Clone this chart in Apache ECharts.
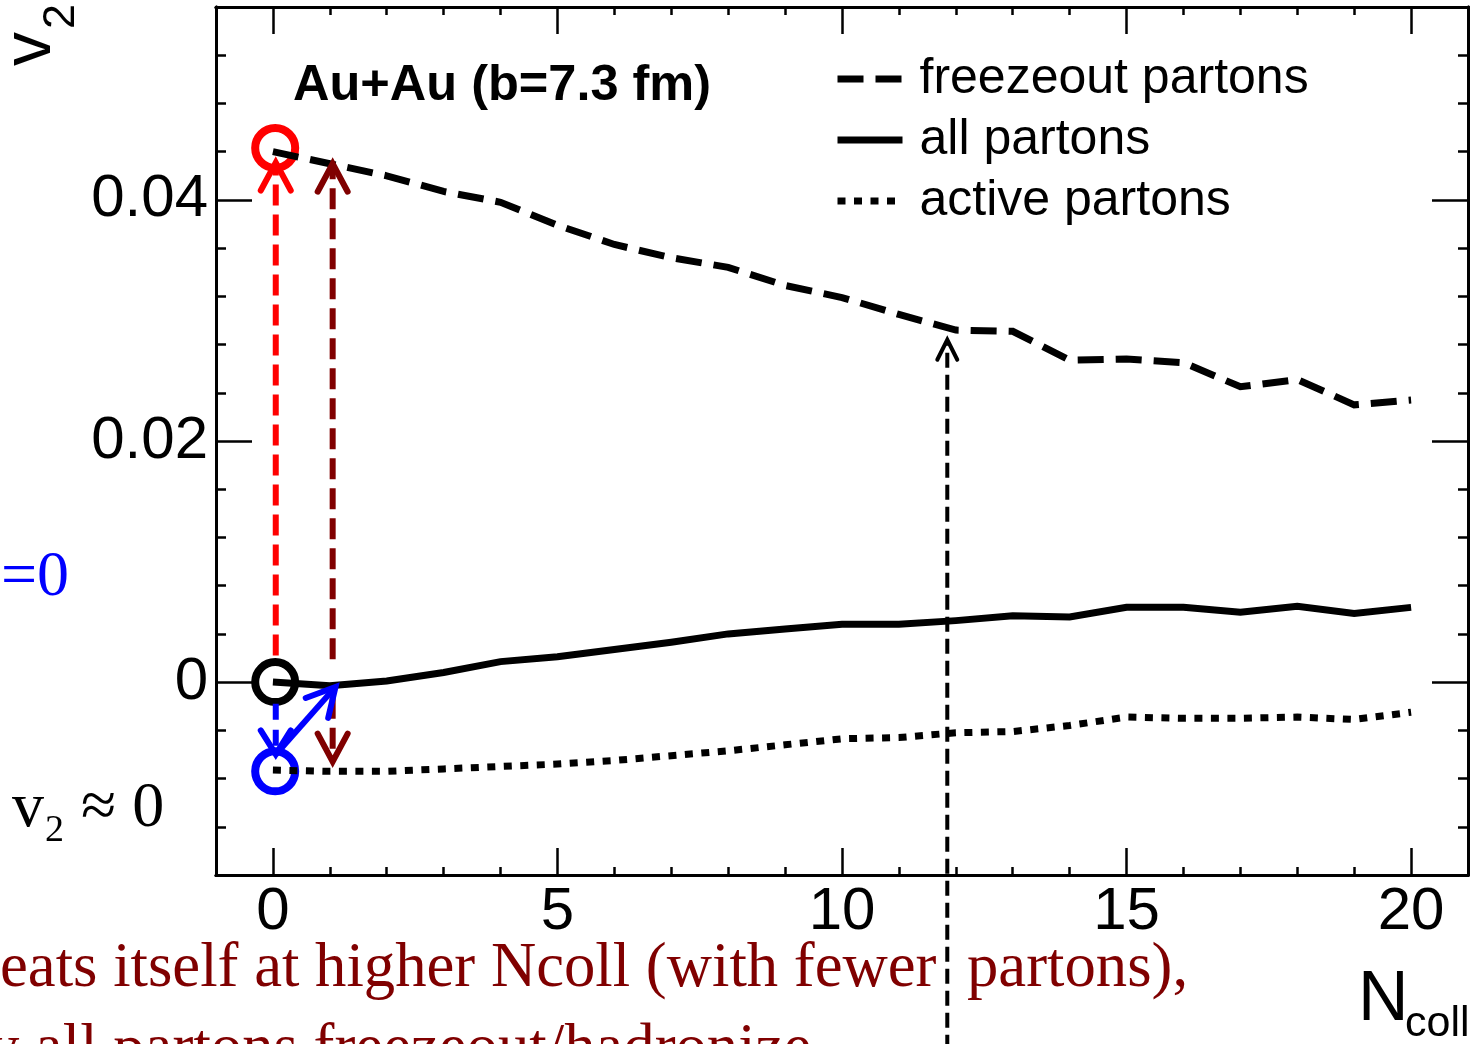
<!DOCTYPE html>
<html>
<head>
<meta charset="utf-8">
<script src="https://cdn.jsdelivr.net/npm/echarts@6/dist/echarts.min.js"></script>
<style>
  html, body { margin: 0; padding: 0; background: #fff; }
  #chart { width: 1475px; height: 1044px; }
</style>
</head>
<body>
<div id="chart"></div>
<script>
// Elliptic flow v2 versus number of collisions, Au+Au at b = 7.3 fm
const nColl = [0, 1, 2, 3, 4, 5, 6, 7, 8, 9, 10, 11, 12, 13, 14, 15, 16, 17, 18, 19, 20];
const v2Freezeout = [0.0440, 0.0430, 0.0420, 0.0407, 0.0398, 0.0379, 0.0363, 0.0352, 0.0344, 0.0329, 0.0319,
                     0.0305, 0.0292, 0.0291, 0.0267, 0.0268, 0.0265, 0.0245, 0.0251, 0.0230, 0.0234];
const v2All = [0.0000, -0.0003, 0.0001, 0.0008, 0.0017, 0.0021, 0.0027, 0.0033, 0.0040, 0.0044, 0.0048,
               0.0048, 0.0051, 0.0055, 0.0054, 0.0062, 0.0062, 0.0058, 0.0063, 0.0057, 0.0062];
const v2Active = [-0.0073, -0.0074, -0.0074, -0.0072, -0.0070, -0.0068, -0.0065, -0.0061, -0.0057, -0.0052, -0.0047,
                  -0.0046, -0.0042, -0.0041, -0.0036, -0.0029, -0.0030, -0.0030, -0.0029, -0.0031, -0.0025];

// axis ticks
const xMajorTicks = [0, 5, 10, 15, 20];
const xMinorTicks = [1, 2, 3, 4, 6, 7, 8, 9, 11, 12, 13, 14, 16, 17, 18, 19];
const yMajorTicks = [0, 0.02, 0.04];
const yMinorTicks = [-0.012, -0.008, -0.004, 0.004, 0.008, 0.012, 0.016, 0.024, 0.028, 0.032, 0.036, 0.044, 0.048, 0.052];

// open circles at Ncoll = 0: freezeout, all, active
const startMarkers = [[0.04, 0.0443], [0.04, 0.0], [0.04, -0.0074]];
const startMarkerColors = ['#ff0000', '#000000', '#0000ff'];

// arrows in data units: [x from, v2 from, x to, v2 to]
const arrowToFreezeout = [[0.05, 0.0022, 0.05, 0.0431]];
const arrowRecoverUp = [[1.05, 0.0019, 1.05, 0.0430]];
const arrowRecoverDown = [[1.05, -0.0013, 1.05, -0.0066]];
const arrowToActive = [[0.05, -0.0018, 0.05, -0.0060]];
const arrowBackToAll = [[0.05, -0.0060, 1.1, -0.0004]];
const arrowRepeat = [[11.85, -0.0305, 11.85, 0.0284]];

const SANS = '"Liberation Sans", Arial, Helvetica, sans-serif';
const SERIF = '"Liberation Serif", "Times New Roman", serif';
const X_MIN = -1, X_MAX = 21, Y_MIN = -0.016, Y_MAX = 0.056;

const chart = echarts.init(document.getElementById('chart'), null, { renderer: 'canvas' });

function pairs(ys) { return nColl.map((n, i) => [n, ys[i]]); }

function xAxisDef(grid, pos, ticks, len, labels) {
  return {
    type: 'value', gridIndex: grid, position: pos, min: X_MIN, max: X_MAX,
    axisLine: { show: true, onZero: false, lineStyle: { color: '#000', width: 3 } },
    axisTick: { show: true, inside: true, length: len, customValues: ticks, lineStyle: { color: '#000', width: 2.5 } },
    axisLabel: labels ? { show: true, customValues: ticks, margin: 7, fontSize: 60, fontFamily: SANS, color: '#000' } : { show: false },
    splitLine: { show: false }
  };
}
function yAxisDef(grid, pos, ticks, len, labels) {
  return {
    type: 'value', gridIndex: grid, position: pos, min: Y_MIN, max: Y_MAX,
    axisLine: { show: true, onZero: false, lineStyle: { color: '#000', width: 3 } },
    axisTick: { show: true, inside: true, length: len, customValues: ticks, lineStyle: { color: '#000', width: 2.5 } },
    axisLabel: labels ? {
      show: true, customValues: ticks, margin: 8, fontSize: 60, fontFamily: SANS, color: '#000',
      formatter: v => (Math.abs(v) < 1e-12 ? '0' : (+v).toFixed(2))
    } : { show: false },
    splitLine: { show: false }
  };
}

function arrowSeries(name, segs, o) {
  return {
    type: 'custom', name: name, xAxisIndex: 0, yAxisIndex: 0, clip: false, silent: true, z: o.z || 4,
    encode: { x: [0, 2], y: [1, 3] },
    data: segs,
    renderItem: function (params, api) {
      const a = api.coord([api.value(0), api.value(1)]);
      const b = api.coord([api.value(2), api.value(3)]);
      const dx = b[0] - a[0], dy = b[1] - a[1];
      const len = Math.hypot(dx, dy), ux = dx / len, uy = dy / len;
      const nx = -uy, ny = ux;
      const bx = b[0] - ux * o.headLen, by = b[1] - uy * o.headLen;
      const tipX = b[0] - ux * o.width * 0.6, tipY = b[1] - uy * o.width * 0.6;
      return {
        type: 'group',
        children: [
          { type: 'line', shape: { x1: a[0], y1: a[1], x2: tipX, y2: tipY },
            style: { stroke: o.color, lineWidth: o.width, lineDash: o.dash || null, lineCap: 'butt' } },
          { type: 'polyline',
            shape: { points: [[bx + nx * o.headHalf, by + ny * o.headHalf], [b[0], b[1]], [bx - nx * o.headHalf, by - ny * o.headHalf]] },
            style: { stroke: o.color, lineWidth: o.width, fill: null, lineCap: 'round', lineJoin: 'miter' } }
        ]
      };
    }
  };
}

// open ring drawn through the axes, so its stroke width is exact
function ringSeries(points, colors) {
  return {
    type: 'custom', name: 'start', xAxisIndex: 0, yAxisIndex: 0, clip: false, silent: true, z: 2,
    encode: { x: 0, y: 1 },
    data: points,
    renderItem: function (params, api) {
      const c = api.coord([api.value(0), api.value(1)]);
      return { type: 'circle', shape: { cx: c[0], cy: c[1], r: 20 },
               style: { fill: null, stroke: colors[params.dataIndex], lineWidth: 8 } };
    }
  };
}

function txt(x, y, text, font, color, extra) {
  return Object.assign({
    type: 'text', x: x, y: y, silent: true, z: 10,
    style: { text: text, font: font, fill: color, textAlign: 'left', align: 'left', textVerticalAlign: 'middle', verticalAlign: 'middle' }
  }, extra || {});
}

const DARKRED = '#800000';

const option = {
  animation: false,
  backgroundColor: '#ffffff',
  grid: [
    { left: 216, right: 7, top: 7, bottom: 169, show: false },
    { left: 216, right: 7, top: 7, bottom: 169, show: false }
  ],
  xAxis: [
    xAxisDef(0, 'bottom', xMajorTicks, 27, true),
    xAxisDef(0, 'top', xMajorTicks, 27, false),
    xAxisDef(1, 'bottom', xMinorTicks, 8, false),
    xAxisDef(1, 'top', xMinorTicks, 8, false)
  ],
  yAxis: [
    yAxisDef(0, 'left', yMajorTicks, 36, true),
    yAxisDef(0, 'right', yMajorTicks, 36, false),
    yAxisDef(1, 'left', yMinorTicks, 10, false),
    yAxisDef(1, 'right', yMinorTicks, 10, false)
  ],
  legend: {
    show: true, orient: 'vertical', left: 834, top: 54, padding: 0, itemGap: 11,
    itemWidth: 65, itemHeight: 14, selectedMode: false,
    data: ['freezeout partons', 'all partons', 'active partons'],
    lineStyle: { width: 'inherit' },
    itemStyle: { opacity: 0, borderWidth: 0 },
    textStyle: { fontSize: 50, lineHeight: 50, fontFamily: SANS, color: '#000', padding: [0, 0, 0, 12] }
  },
  series: [
    ringSeries(startMarkers, startMarkerColors),
    { type: 'line', name: 'freezeout partons', xAxisIndex: 0, yAxisIndex: 0, silent: true, z: 3,
      data: pairs(v2Freezeout), symbol: 'none', symbolSize: 0, showSymbol: false,
      itemStyle: { color: '#000' },
      lineStyle: { color: '#000', width: 7, type: [26, 12], cap: 'butt', join: 'miter' } },
    { type: 'line', name: 'all partons', xAxisIndex: 0, yAxisIndex: 0, silent: true, z: 3,
      data: pairs(v2All), symbol: 'none', symbolSize: 0, showSymbol: false,
      itemStyle: { color: '#000' },
      lineStyle: { color: '#000', width: 7, type: 'solid', cap: 'butt', join: 'miter' } },
    { type: 'line', name: 'active partons', xAxisIndex: 0, yAxisIndex: 0, silent: true, z: 3,
      data: pairs(v2Active), symbol: 'none', symbolSize: 0, showSymbol: false,
      itemStyle: { color: '#000' },
      lineStyle: { color: '#000', width: 7, type: [8, 8.5], cap: 'butt', join: 'miter' } },
    arrowSeries('to freezeout', arrowToFreezeout, { color: '#ff0000', width: 6, dash: [21, 9], headLen: 28, headHalf: 15 }),
    arrowSeries('recover up', arrowRecoverUp, { color: DARKRED, width: 6, dash: [21, 9], headLen: 28, headHalf: 15 }),
    arrowSeries('recover down', arrowRecoverDown, { color: DARKRED, width: 6, dash: [21, 9], headLen: 28, headHalf: 15 }),
    arrowSeries('to active', arrowToActive, { color: '#0000ff', width: 6, dash: [16, 10], headLen: 24, headHalf: 15 }),
    arrowSeries('back to all', arrowBackToAll, { color: '#0000ff', width: 6, headLen: 28, headHalf: 15 }),
    arrowSeries('repeat', arrowRepeat, { color: '#000000', width: 4, dash: [15, 7], headLen: 20, headHalf: 10 })
  ],
  graphic: [
    txt(293, 86, 'Au+Au (b=7.3 fm)', 'bold 50.5px ' + SANS, '#000'),
    txt(31.4, 66, 'v', '68px ' + SANS, '#000', { rotation: Math.PI / 2 }),
    txt(61.4, 29, '2', '45px ' + SANS, '#000', { rotation: Math.PI / 2 }),
    txt(1358, 1001, 'N', '70px ' + SANS, '#000'),
    txt(1405, 1024, 'coll', '43px ' + SANS, '#000'),
    txt(1, 578, '=0', '64px ' + SERIF, '#0000ff'),
    txt(12, 809, 'v', '64px ' + SERIF, '#000'),
    txt(45, 831, '2', '38px ' + SERIF, '#000'),
    txt(81, 809, '\u2248 0', '64px ' + SERIF, '#000'),
    txt(0, 970, 'eats itself at higher Ncoll (with fewer', '62.7px ' + SERIF, DARKRED),
    txt(967, 970, 'partons),', '62.7px ' + SERIF, DARKRED),
    txt(-12, 1051, 'y all partons freezeout/hadronize', '62.7px ' + SERIF, DARKRED)
  ]
};

chart.setOption(option);
</script>
</body>
</html>
